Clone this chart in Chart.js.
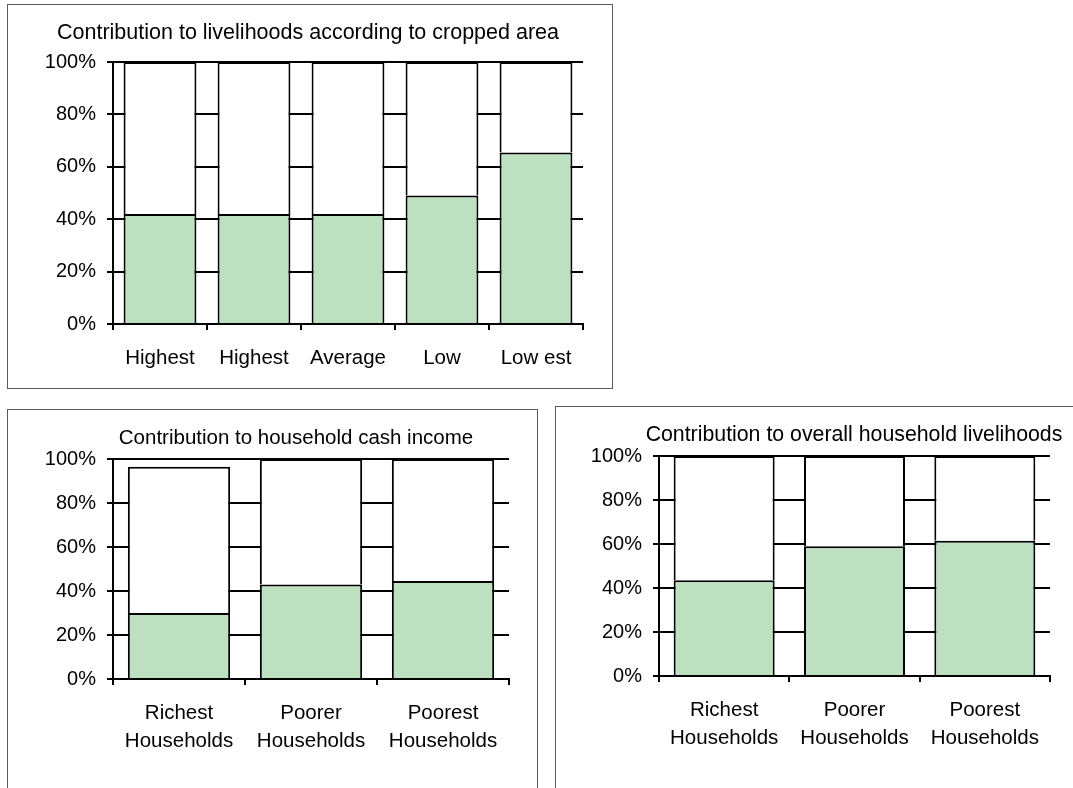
<!DOCTYPE html>
<html>
<head>
<meta charset="utf-8">
<script src="https://cdn.jsdelivr.net/npm/chart.js@4/dist/chart.umd.min.js"></script>
<style>
  html, body { margin: 0; padding: 0; background: #fff; width: 1073px; height: 788px; overflow: hidden; position: relative; }
  .box { position: absolute; border: 1px solid #5a5a5a; background: #fff; }
  canvas { position: absolute; }
</style>
</head>
<body>
<div class="box" style="left:7px; top:4px; width:604px; height:383px;"></div>
<div class="box" style="left:7px; top:409px; width:529px; height:420px;"></div>
<div class="box" style="left:555px; top:406px; width:560px; height:420px;"></div>
<canvas id="c1" width="603" height="382" style="left:8px; top:5px;"></canvas>
<canvas id="c2" width="528" height="378" style="left:8px; top:410px;"></canvas>
<canvas id="c3" width="517" height="382" style="left:556px; top:407px;"></canvas>
<script>
// ---- Data ----
const cropTitle = 'Contribution to livelihoods according to cropped area';
const cropCategories = ['Highest', 'Highest', 'Average', 'Low', 'Low est'];
const cropShare = [42, 42, 42, 49, 65.5];
const cropRest = [58, 58, 58, 51, 34.5];

const cashTitle = 'Contribution to household cash income';
const cashCategories = [['Richest', 'Households'], ['Poorer', 'Households'], ['Poorest', 'Households']];
const cashShare = [30, 43, 44.5];
const cashRest = [66.5, 57, 55.5];

const overallTitle = 'Contribution to overall household livelihoods';
const overallCategories = [['Richest', 'Households'], ['Poorer', 'Households'], ['Poorest', 'Households']];
const overallShare = [43.5, 59, 61.5];
const overallRest = [56.5, 41, 38.5];

const yTickValues = [0, 20, 40, 60, 80, 100];
const yTickSuffix = '%';

// ---- Styling ----
const FONT = '"Liberation Sans", Arial, sans-serif';
const GREEN = '#BCE0C0';
const BAR_BORDER = { top: 2, left: 2, right: 2, bottom: 0 };

const titlePlugin = {
  id: 'fixedTitle',
  afterDraw(chart, args, opts) {
    const ctx = chart.ctx;
    ctx.save();
    ctx.font = opts.size + 'px ' + FONT;
    ctx.fillStyle = '#000';
    ctx.textAlign = 'center';
    ctx.textBaseline = 'middle';
    ctx.fillText(opts.text, opts.x, opts.y);
    ctx.restore();
  }
};

function makeChart(id, title, titlePos, categories, share, rest, geom) {
  const ctx = document.getElementById(id).getContext('2d');
  return new Chart(ctx, {
    type: 'bar',
    data: {
      labels: categories,
      datasets: [
        { data: share, backgroundColor: GREEN, borderColor: '#000', borderWidth: BAR_BORDER, borderSkipped: false,
          barPercentage: 0.775, categoryPercentage: 1.0 },
        { data: rest, backgroundColor: '#fff', borderColor: '#000', borderWidth: BAR_BORDER, borderSkipped: false,
          barPercentage: 0.775, categoryPercentage: 1.0 }
      ]
    },
    options: {
      responsive: false,
      animation: false,
      devicePixelRatio: 1,
      layout: { padding: { left: 0, top: geom.top, right: geom.right, bottom: 0 } },
      plugins: {
        legend: { display: false },
        tooltip: { enabled: false },
        title: { display: false },
        fixedTitle: { text: title, x: titlePos.x, y: titlePos.y, size: titlePos.size }
      },
      scales: {
        x: {
          stacked: true,
          grid: { display: true, drawOnChartArea: false, drawTicks: true, tickLength: 6, color: '#000', lineWidth: 2, offset: true },
          border: { display: true, color: '#000', width: 2 },
          ticks: { color: '#000', font: { family: FONT, size: 20.5, lineHeight: 1.37 }, padding: 14, maxRotation: 0, autoSkip: false },
          afterFit(scale) { scale.height = geom.xHeight; }
        },
        y: {
          stacked: true,
          min: 0, max: 100,
          afterBuildTicks(scale) { scale.ticks = yTickValues.map(v => ({ value: v })); },
          grid: { display: true, drawTicks: true, tickLength: 6, color: '#000', lineWidth: 2 },
          border: { display: true, color: '#000', width: 2 },
          ticks: { color: '#000', font: { family: FONT, size: 20 }, padding: 11,
                   callback: v => v + yTickSuffix },
          afterFit(scale) { scale.width = geom.yWidth; }
        }
      }
    },
    plugins: [titlePlugin]
  });
}

makeChart('c1', cropTitle, { x: 300, y: 28, size: 21.5 }, cropCategories, cropShare, cropRest,
  { top: 57, right: 28, yWidth: 105, xHeight: 63 });
makeChart('c2', cashTitle, { x: 288, y: 28, size: 20.5 }, cashCategories, cashShare, cashRest,
  { top: 49, right: 27, yWidth: 105, xHeight: 109 });
makeChart('c3', overallTitle, { x: 298, y: 28, size: 21.3 }, overallCategories, overallShare, overallRest,
  { top: 49, right: 23, yWidth: 103, xHeight: 113 });
</script>
</body>
</html>
